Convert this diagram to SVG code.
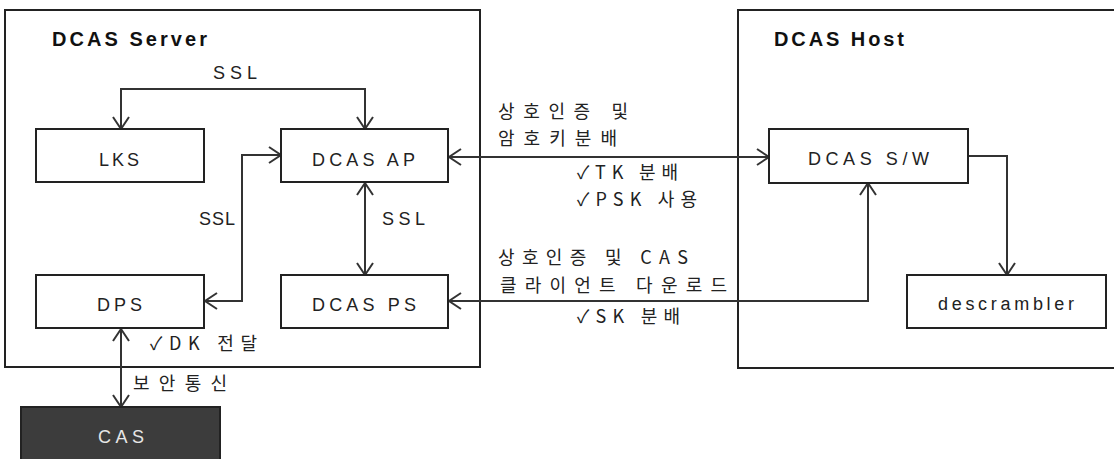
<svg xmlns="http://www.w3.org/2000/svg" width="1114" height="459" viewBox="0 0 1114 459">
<defs>
<style>
.frame{fill:#fff;stroke:#222;stroke-width:2}
.box{fill:#fff;stroke:#222;stroke-width:2}
.dark{fill:#3c3c3c;stroke:#222;stroke-width:2}
.conn{fill:none;stroke:#333;stroke-width:2}
.t{font-family:"Liberation Sans","Noto Sans CJK KR",sans-serif;font-size:18px;fill:#222}
.k{font-family:"Noto Sans CJK KR","Liberation Sans",sans-serif;font-size:18px;fill:#222}
.b{font-family:"Liberation Sans","Noto Sans CJK KR",sans-serif;font-size:20px;font-weight:bold;fill:#111}
.w{fill:#e6e6e6}
</style>
<marker id="arr" viewBox="-14 -10 16 20" refX="0" refY="0" markerWidth="16" markerHeight="20" markerUnits="userSpaceOnUse" orient="auto-start-reverse">
<path d="M-12,-8 L0,0 L-12,8" fill="none" stroke="#333" stroke-width="2"/>
</marker>
</defs>
<rect width="1114" height="459" fill="#fff"/>
<g id="server">
<rect class="frame" x="5" y="10" width="475" height="357"/>
<text class="b" x="52" y="46" textLength="155" lengthAdjust="spacing">DCAS Server</text>
</g>
<g id="host">
<rect class="frame" x="738" y="10" width="400" height="358"/>
<text class="b" x="774" y="46" textLength="130" lengthAdjust="spacing">DCAS Host</text>
</g>
<g id="connectors">
<path class="conn" d="M121,129 V89 H365 V129" marker-start="url(#arr)" marker-end="url(#arr)"/>
<path class="conn" d="M205,301 H242 V155 H281" marker-start="url(#arr)" marker-end="url(#arr)"/>
<path class="conn" d="M365,183 V275" marker-start="url(#arr)" marker-end="url(#arr)"/>
<path class="conn" d="M449,157 H769" marker-start="url(#arr)" marker-end="url(#arr)"/>
<path class="conn" d="M449,301 H868 V183" marker-start="url(#arr)" marker-end="url(#arr)"/>
<path class="conn" d="M968,156 H1007 V275" marker-end="url(#arr)"/>
<path class="conn" d="M121,329 V407" marker-start="url(#arr)" marker-end="url(#arr)"/>
<text class="t" x="213" y="79" textLength="44" lengthAdjust="spacing">SSL</text>
<text class="t" x="199" y="225" textLength="36" lengthAdjust="spacing">SSL</text>
<text class="t" x="382" y="225" textLength="43" lengthAdjust="spacing">SSL</text>
<text class="k" x="498" y="118" textLength="130" lengthAdjust="spacing">상호인증 및</text>
<text class="k" x="498" y="145" textLength="119" lengthAdjust="spacing">암호키분배</text>
<text class="k" x="577" y="179" textLength="101" lengthAdjust="spacing">✓TK 분배</text>
<text class="k" x="577" y="206" textLength="120" lengthAdjust="spacing">✓PSK 사용</text>
<text class="k" x="498" y="264" textLength="190" lengthAdjust="spacing">상호인증 및 CAS</text>
<text class="k" x="500" y="292" textLength="227" lengthAdjust="spacing">클라이언트 다운로드</text>
<text class="k" x="577" y="323" textLength="103" lengthAdjust="spacing">✓SK 분배</text>
<text class="k" x="150" y="350" textLength="107" lengthAdjust="spacing">✓DK 전달</text>
<text class="k" x="133" y="390" textLength="94" lengthAdjust="spacing">보안통신</text>
</g>
<g id="lks">
<rect class="box" x="36" y="129" width="168" height="53"/>
<text class="t" x="99" y="166" textLength="40" lengthAdjust="spacing">LKS</text>
</g>
<g id="dcas-ap">
<rect class="box" x="281" y="129" width="167" height="53"/>
<text class="t" x="312" y="166" textLength="103" lengthAdjust="spacing">DCAS  AP</text>
</g>
<g id="dps">
<rect class="box" x="36" y="275" width="168" height="53"/>
<text class="t" x="97" y="311" textLength="45" lengthAdjust="spacing">DPS</text>
</g>
<g id="dcas-ps">
<rect class="box" x="281" y="275" width="167" height="53"/>
<text class="t" x="312" y="311" textLength="104" lengthAdjust="spacing">DCAS  PS</text>
</g>
<g id="cas">
<rect class="dark" x="21" y="407" width="199" height="60"/>
<text class="t w" x="98" y="443" textLength="46" lengthAdjust="spacing">CAS</text>
</g>
<g id="dcas-sw">
<rect class="box" x="769" y="129" width="199" height="54"/>
<text class="t" x="808" y="165" textLength="121" lengthAdjust="spacing">DCAS  S/W</text>
</g>
<g id="descrambler">
<rect class="box" x="907" y="275" width="199" height="53"/>
<text class="t" x="938" y="310" textLength="136" lengthAdjust="spacing">descrambler</text>
</g>
</svg>
